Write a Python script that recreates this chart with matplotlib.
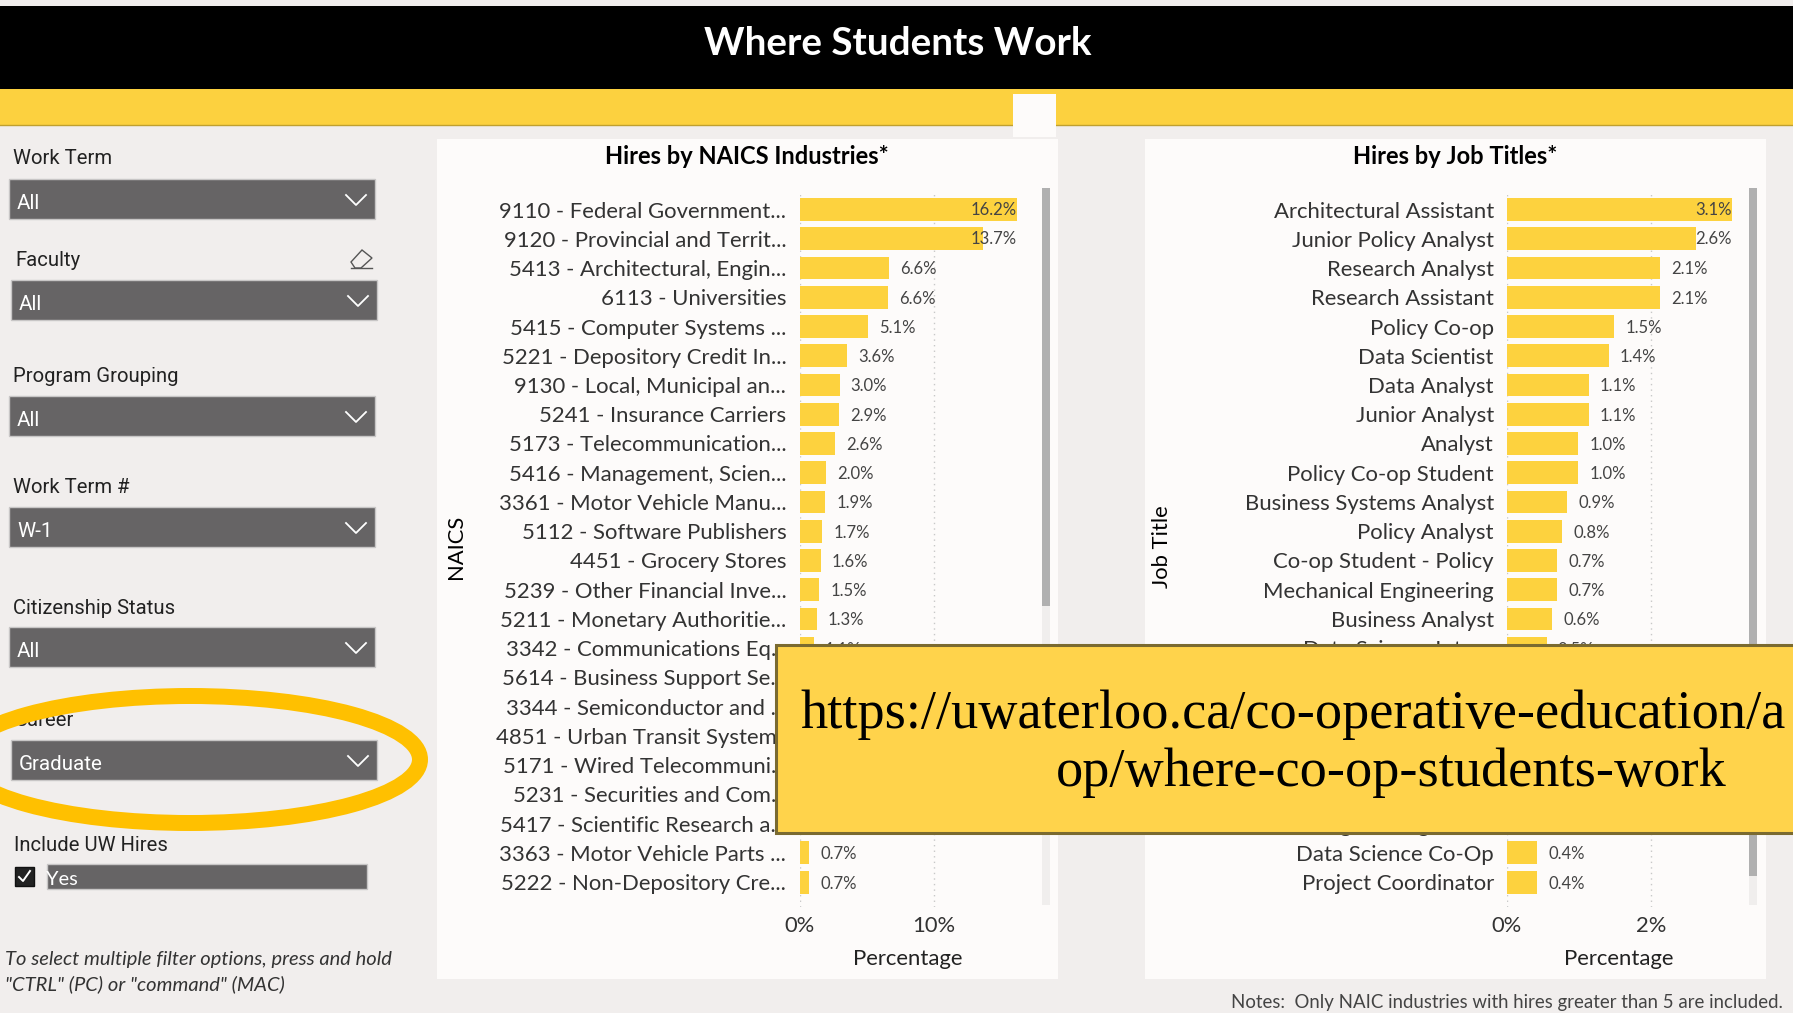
import matplotlib
matplotlib.use("Agg")
import matplotlib.pyplot as plt
from matplotlib.patches import Rectangle, Ellipse, Polygon

W, H = 1793, 1013

naics = ["9110 - Federal Government...", "9120 - Provincial and Territ...", "5413 - Architectural, Engin...",
         "6113 - Universities", "5415 - Computer Systems ...", "5221 - Depository Credit In...",
         "9130 - Local, Municipal an...", "5241 - Insurance Carriers", "5173 - Telecommunication...",
         "5416 - Management, Scien...", "3361 - Motor Vehicle Manu...", "5112 - Software Publishers",
         "4451 - Grocery Stores", "5239 - Other Financial Inve...", "5211 - Monetary Authoritie...",
         "3342 - Communications Eq...", "5614 - Business Support Se...", "3344 - Semiconductor and ...",
         "4851 - Urban Transit Systems", "5171 - Wired Telecommuni...", "5231 - Securities and Com...",
         "5417 - Scientific Research a...", "3363 - Motor Vehicle Parts ...", "5222 - Non-Depository Cre..."]
naics_vals = [16.2, 13.7, 6.67, 6.58, 5.1, 3.55, 3.0, 2.94, 2.64, 2.0, 1.93, 1.7, 1.6, 1.46, 1.27,
              1.06, 1.0, 0.9, 0.9, 0.8, 0.8, 0.75, 0.71, 0.71]
naics_text = ["16.2%", "13.7%", "6.6%", "6.6%", "5.1%", "3.6%", "3.0%", "2.9%", "2.6%", "2.0%", "1.9%",
              "1.7%", "1.6%", "1.5%", "1.3%", "1.1%", "1.0%", "0.9%", "0.9%", "0.8%", "0.8%", "0.7%",
              "0.7%", "0.7%"]

jobs = ["Architectural Assistant", "Junior Policy Analyst", "Research Analyst", "Research Assistant",
        "Policy Co-op", "Data Scientist", "Data Analyst", "Junior Analyst", "Analyst", "Policy Co-op Student",
        "Business Systems Analyst", "Policy Analyst", "Co-op Student - Policy", "Mechanical Engineering",
        "Business Analyst", "Data Science Intern", "", "", "", "", "", "Engineering Intern",
        "Data Science Co-Op", "Project Coordinator"]
jobs_vals = [3.13, 2.63, 2.13, 2.13, 1.49, 1.42, 1.14, 1.14, 0.99, 0.99, 0.84, 0.77, 0.70, 0.70, 0.63,
             0.55, 0.5, 0.5, 0.5, 0.5, 0.45, 0.45, 0.42, 0.42]
jobs_text = ["3.1%", "2.6%", "2.1%", "2.1%", "1.5%", "1.4%", "1.1%", "1.1%", "1.0%", "1.0%", "0.9%", "0.8%",
             "0.7%", "0.7%", "0.6%", "0.5%", "0.5%", "0.5%", "0.5%", "0.5%", "0.4%", "0.4%", "0.4%", "0.4%"]

filter_names = ["Work Term", "Faculty", "Program Grouping", "Work Term #", "Citizenship Status", "Career"]
filter_values = ["All", "All", "All", "W-1", "All", "Graduate"]
filter_title_y = [158, 260, 376, 487, 608, 720]
filter_box = [(9, 179, 366, 40), (11, 280, 366, 40), (9, 396, 366, 40), (9, 507, 366, 40),
              (9, 627, 366, 40), (11, 740, 366, 40)]

BG = "#F1EEED"
PANEL = "#FDFBFA"
YEL = "#FCD13F"
DARK = "#666465"
UI = "Roboto"
LAB = "Lato"

fig = plt.figure(figsize=(W / 100, H / 100), dpi=100, facecolor=BG)
ui = fig.add_axes([0, 0, 1, 1], zorder=0)
ui.set_xlim(0, W)
ui.set_ylim(H, 0)
ui.axis("off")


def px(s):
    return s * 0.72


# header
ui.add_patch(Rectangle((0, 6), W, 83, fc="#000000", ec="none"))
ui.add_patch(Rectangle((0, 89), W, 36, fc=YEL, ec="none"))
ui.plot([0, W], [125, 125], color="#BFA030", lw=1)
ui.add_patch(Rectangle((1013, 94), 43, 43, fc=PANEL, zorder=3))
ui.text(898, 43, "Where Students Work", color="white", fontsize=px(38.6), fontweight="bold",
        family=LAB, ha="center", va="center")

# panels
for x0 in (437, 1145):
    ui.add_patch(Rectangle((x0, 139), 621, 840, fc=PANEL))

# slicers
for name, val, ty, (bx, by, bw, bh) in zip(filter_names, filter_values, filter_title_y, filter_box):
    ui.text(bx + 4, ty, name, fontsize=px(20.3), family=UI, color="#222222", va="center")
    ui.add_patch(Rectangle((bx, by), bw, bh, fc=DARK, ec="#C8C6C6", lw=1))
    ui.text(bx + 8, by + 24, val, fontsize=px(20.5), family=UI, color="white", va="center")
    ax_ = bx + bw - 29
    ui.plot([ax_, ax_ + 10, ax_ + 20], [by + 16, by + 26, by + 16], color="white", lw=1.3)

# eraser icon
ui.add_patch(Polygon([(351, 262), (362, 250), (372, 258), (361, 268), (355, 268)], fc="none", ec="#555555", lw=1))
ui.plot([351, 372], [268, 268], color="#555555", lw=1)

# ring over career slicer
ui.add_patch(Ellipse((190, 759.5), 460, 127, fc="none", ec="#FFC000", lw=11.5, zorder=4))

ui.text(14, 845, "Include UW Hires", fontsize=px(20.3), family=UI, color="#222222", va="center")
ui.add_patch(Rectangle((15, 867), 19, 19, fc="#222222", ec="#111111"))
ui.plot([19, 23, 30], [877, 881, 871], color="white", lw=1.4)
ui.add_patch(Rectangle((47, 864), 320, 25, fc=DARK, ec="#C8C6C6", lw=1))
ui.text(46, 879, "Yes", fontsize=px(20), family=LAB, color="white", va="center")

ui.text(5, 959, "To select multiple filter options, press and hold", fontsize=px(20.1), family=LAB,
        style="italic", color="#333333", va="center")
ui.text(5, 984, "\"CTRL\" (PC) or \"command\" (MAC)", fontsize=px(20.1), family=LAB,
        style="italic", color="#333333", va="center")
ui.text(1783, 1002, "Notes:  Only NAIC industries with hires greater than 5 are included.", fontsize=px(18.6),
        family=LAB, color="#444444", ha="right", va="center")

# scroll bars
ui.add_patch(Rectangle((1042, 188), 8, 717, fc="#F0EEED"))
ui.add_patch(Rectangle((1042, 188), 8, 418, fc="#B0B0B0"))
ui.add_patch(Rectangle((1749, 188), 8, 717, fc="#F0EEED"))
ui.add_patch(Rectangle((1749, 188), 8, 688, fc="#B0B0B0"))

ui.text(747, 156, "Hires by NAICS Industries*", fontsize=px(23.6), fontweight="bold", family=LAB, ha="center", va="center")
ui.text(1455, 156, "Hires by Job Titles*", fontsize=px(23.6), fontweight="bold", family=LAB, ha="center", va="center")
ui.text(456, 547, "NAICS", fontsize=px(22), family=LAB, rotation=90, ha="center", va="center")
ui.text(1162, 547, "Job Title", fontsize=px(22), family=LAB, rotation=90, ha="center", va="center")
ui.text(908, 959, "Percentage", fontsize=px(22.2), family=LAB, ha="center", va="center", color="#222222")
ui.text(1619, 959, "Percentage", fontsize=px(22.2), family=LAB, ha="center", va="center", color="#222222")


def bar_chart(x0, x1, xmax, names, vals, texts, tick, tick_label):
    ax = fig.add_axes([x0 / W, 1 - 907 / H, (x1 - x0) / W, (907 - 192) / H], zorder=1)
    ax.patch.set_alpha(0)
    for s in ax.spines.values():
        s.set_visible(False)
    ax.set_xlim(0, xmax)
    ax.set_ylim(23.85, -0.6)
    ax.barh(range(len(vals)), vals, height=0.78, color="#FDD23E", zorder=2)
    ax.set_yticks(range(len(names)), names, fontsize=px(22.2), family=LAB, color="#333333")
    ax.set_xticks([0, tick], ["0%", tick_label], fontsize=px(22), family=LAB, color="#333333")
    ax.tick_params(length=0)
    ax.tick_params(axis="y", pad=9.5)
    ax.tick_params(axis="x", pad=6.5)
    ax.grid(axis="x", color="#C8C8C8", ls=(0, (1, 3)), lw=1, zorder=1)
    ax.set_axisbelow(True)
    scale = (x1 - x0) / xmax
    for i, (v, t) in enumerate(zip(vals, texts)):
        if v * scale + 12 + 44 > x1 - x0:
            ax.text(xmax, i, t, ha="right", va="center", fontsize=px(16.6), family=LAB, color="#444444", zorder=3)
        else:
            ax.annotate(t, (v, i), xytext=(11 * 0.72, -1), textcoords="offset points", ha="left", va="center",
                        fontsize=px(16.6), family=LAB, color="#444444", zorder=3)


bar_chart(799.5, 1017, 16.2, naics, naics_vals, naics_text, 10, "10%")
bar_chart(1507, 1732, 3.13, jobs, jobs_vals, jobs_text, 2, "2%")

# callout with link
top = fig.add_axes([0, 0, 1, 1], zorder=5)
top.set_xlim(0, W)
top.set_ylim(H, 0)
top.axis("off")
top.patch.set_alpha(0)
top.add_patch(Rectangle((776, 645), W, 188, fc="#FFD34B", ec="#7A6A30", lw=2.2))
top.text(800, 715, "https://uwaterloo.ca/co-operative-education/a", fontsize=px(54.3), family="Liberation Serif",
         color="black", va="center")
top.text(1391, 773, "op/where-co-op-students-work", fontsize=px(54.3), family="Liberation Serif",
         color="black", ha="center", va="center")

fig.savefig("out.png", dpi=100, facecolor=BG)
